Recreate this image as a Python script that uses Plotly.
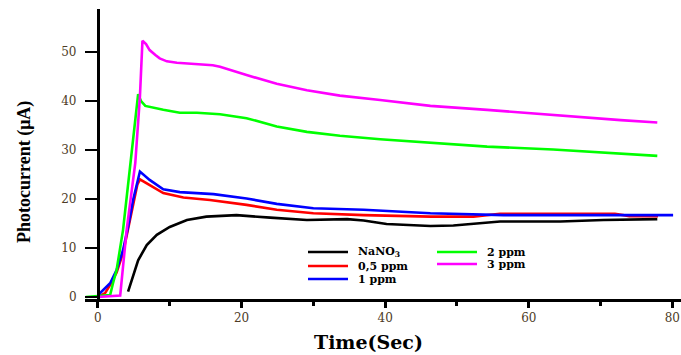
import plotly.graph_objects as go

# ---- data ----
series_names = ["NaNO<sub>3</sub>", "0,5 ppm", "1 ppm", "2 ppm", "3 ppm"]
series_colors = ["#000000", "#ff0000", "#0000ff", "#00ff00", "#ff00ff"]

t_nano3 = [4.2, 4.9, 5.6, 6.8, 8.2, 10, 11.4, 12.4, 15.1, 19.3, 24, 29.1, 34.7, 37, 40.2, 46.3, 49.5, 56, 64.4, 70.4, 77.9]
y_nano3 = [1.1, 4.1, 7.5, 10.6, 12.7, 14.3, 15.2, 15.7, 16.4, 16.7, 16.2, 15.7, 15.9, 15.6, 14.9, 14.5, 14.6, 15.4, 15.4, 15.7, 15.9]

t_05 = [0, 1.0, 1.7, 2.6, 3.5, 4.2, 4.9, 5.5, 5.85, 7.2, 9.1, 11.9, 15.6, 20.7, 24.9, 30, 37, 46.3, 52.3, 56, 72, 74, 78]
y_05 = [0, 0.8, 2.5, 5.0, 9.0, 14.0, 19.0, 23.0, 24.0, 22.9, 21.2, 20.3, 19.8, 18.8, 17.8, 17.1, 16.7, 16.4, 16.4, 17.0, 17.0, 16.5, 16.5]

t_1 = [0, 0.3, 1.7, 2.6, 3.5, 4.2, 4.9, 5.85, 7.2, 9.1, 11.4, 12.8, 16.1, 20.7, 24.9, 30, 37, 46.3, 56.5, 80.1]
y_1 = [0, 0.8, 2.8, 5.5, 9.6, 14.3, 19.8, 25.6, 23.9, 22.0, 21.4, 21.3, 21.0, 20.1, 19.0, 18.1, 17.8, 17.1, 16.7, 16.7]

t_2 = [-1.7, 1.7, 2.1, 2.6, 3.5, 4.5, 5.6, 6.0, 6.6, 9.1, 11.4, 13.8, 17, 20.7, 24.9, 29.1, 33.7, 39.3, 46.3, 54.2, 63.4, 72.8, 77.9]
y_2 = [0, 0.4, 2.8, 5.5, 13.7, 27.3, 41.4, 40.0, 39.0, 38.2, 37.6, 37.6, 37.3, 36.5, 34.8, 33.7, 32.9, 32.2, 31.5, 30.7, 30.1, 29.3, 28.8]

t_3 = [0, 3.1, 4.0, 5.2, 5.85, 6.2, 6.7, 7.2, 8.0, 8.6, 9.6, 11, 16, 17, 20.7, 24.9, 29.1, 33.7, 39.3, 46.3, 54.2, 63.4, 72.8, 77.9]
y_3 = [0, 0.3, 13.7, 27.3, 40.9, 52.3, 51.6, 50.4, 49.4, 48.7, 48.1, 47.8, 47.3, 47.0, 45.3, 43.5, 42.2, 41.1, 40.2, 39.0, 38.2, 37.1, 36.1, 35.6]

x_ticks = [0, 20, 40, 60, 80]
x_minor_ticks = [10, 30, 50, 70]
y_ticks = [0, 10, 20, 30, 40, 50]

xs = [t_nano3, t_05, t_1, t_2, t_3]
ys = [y_nano3, y_05, y_1, y_2, y_3]

W, H = 681, 355
ML, MR, MT, MB = 85, 0, 9, 56
XR = [-1.8, 81.2]
YR = [-0.41, 58.78]
PW, PH = W - ML - MR, H - MT - MB


def px_to_paper_x(px):
    return (px - ML) / PW


def px_to_paper_y(py):
    return (H - MB - py) / PH


fig = go.Figure()
for name, col, x, y in zip(series_names, series_colors, xs, ys):
    fig.add_trace(go.Scatter(x=x, y=y, mode="lines", name=name,
                             line=dict(color=col, width=2.6), showlegend=False))

tick_font = dict(family="DejaVu Serif", size=12, color="#4d3b26")

y_pos = (0 - XR[0]) / (XR[1] - XR[0])

fig.update_layout(
    width=W, height=H,
    margin=dict(l=ML, r=MR, t=MT, b=MB, autoexpand=False),
    plot_bgcolor="white", paper_bgcolor="white",
    showlegend=False,
    xaxis=dict(range=XR, tickvals=x_ticks, ticks="outside", ticklen=6, tickwidth=3,
               tickcolor="black", showline=True, linewidth=3, linecolor="black",
               showgrid=False, zeroline=False, tickfont=tick_font,
               minor=dict(tickvals=x_minor_ticks, ticks="outside", ticklen=4, tickwidth=3, tickcolor="black"),
               automargin=False),
    yaxis=dict(range=YR, tickvals=y_ticks, ticks="outside", ticklen=12, tickwidth=2,
               tickcolor="black", showline=True, linewidth=3, linecolor="black",
               showgrid=False, zeroline=False, tickfont=tick_font,
               anchor="free", position=y_pos, ticklabelstandoff=6, automargin=False),
)

# legend (two columns) drawn as line samples + labels
legend_slots = [(308, 252), (308, 266), (308, 279), (437, 252), (437, 264)]
for name, col, (lx, ly) in zip(series_names, series_colors, legend_slots):
    fig.add_shape(type="line", xref="paper", yref="paper",
                  x0=px_to_paper_x(lx), x1=px_to_paper_x(lx + 40),
                  y0=px_to_paper_y(ly), y1=px_to_paper_y(ly),
                  line=dict(color=col, width=2.6))
    fig.add_annotation(text="<b>%s</b>" % name, xref="paper", yref="paper",
                       x=px_to_paper_x(lx + 48), y=px_to_paper_y(ly),
                       showarrow=False, xanchor="left", yanchor="middle",
                       font=dict(family="DejaVu Serif", size=11, color="black"))

fig.add_annotation(text="<b>Time(Sec)</b>", xref="paper", yref="paper",
                   x=px_to_paper_x(368), y=px_to_paper_y(342),
                   showarrow=False, xanchor="center", yanchor="middle",
                   font=dict(family="DejaVu Serif", size=19, color="black"))
fig.add_annotation(text="<b>Photocurrent (μA)</b>", xref="paper", yref="paper",
                   x=px_to_paper_x(24), y=px_to_paper_y(172),
                   showarrow=False, xanchor="center", yanchor="middle", textangle=-90,
                   font=dict(family="Liberation Serif", size=18, color="black"))

fig.write_html("out.html")
